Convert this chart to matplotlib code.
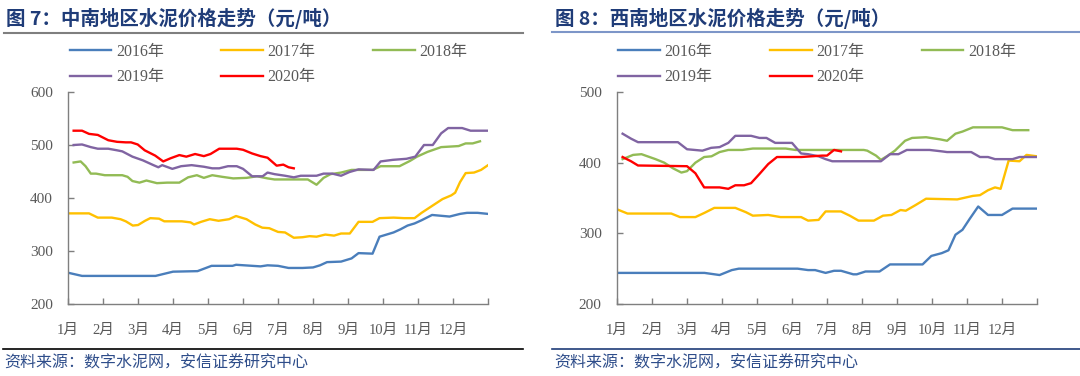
import numpy as np
import matplotlib.pyplot as plt
from matplotlib.lines import Line2D

# month position (0 = start of Jan) and price, yuan/ton
# Central-south region
cs_2016 = [(0, 259), (0.4, 253), (2.5, 253), (3.0, 261), (3.7, 262), (4.1, 272), (4.7, 272), (4.8, 274),
           (5.5, 271), (5.7, 273), (6.0, 272), (6.3, 268), (6.7, 268), (7.0, 269), (7.2, 273), (7.4, 279),
           (7.8, 280), (8.1, 286), (8.3, 296), (8.7, 295), (8.9, 327), (9.3, 335), (9.5, 341), (9.7, 348),
           (9.9, 352), (10.1, 358), (10.4, 368), (10.9, 365), (11.2, 370), (11.4, 372), (11.7, 372), (12.0, 370)]
cs_2017 = [(0, 371), (0.6, 371), (0.85, 363), (1.25, 363), (1.5, 360), (1.65, 356), (1.85, 348), (2.0, 349),
           (2.2, 357), (2.35, 362), (2.6, 361), (2.75, 356), (3.25, 356), (3.5, 354), (3.6, 350), (3.8, 355),
           (4.05, 360), (4.3, 357), (4.6, 360), (4.8, 366), (5.1, 360), (5.35, 350), (5.55, 344), (5.75, 343),
           (6.0, 336), (6.2, 335), (6.45, 325), (6.7, 326), (6.9, 328), (7.1, 327), (7.35, 331), (7.6, 329),
           (7.8, 333), (8.05, 333), (8.3, 355), (8.7, 355), (8.9, 362), (9.3, 363), (9.6, 362), (9.9, 362),
           (10.1, 372), (10.4, 385), (10.7, 398), (10.95, 405), (11.06, 410), (11.2, 430), (11.36, 447),
           (11.6, 448), (11.8, 453), (12.0, 462)]
cs_2018 = [(0.16, 467), (0.36, 469), (0.5, 460), (0.65, 446), (0.8, 446), (1.05, 443), (1.55, 443), (1.7, 440),
           (1.84, 432), (2.04, 429), (2.24, 433), (2.54, 428), (2.83, 429), (3.18, 429), (3.43, 439), (3.68, 443),
           (3.88, 438), (4.12, 443), (4.4, 440), (4.72, 437), (5.1, 438), (5.4, 441), (5.7, 437), (5.9, 435),
           (6.85, 435), (7.1, 425), (7.3, 438), (7.5, 445), (7.8, 448), (8.1, 453), (8.7, 453), (8.93, 460),
           (9.47, 460), (9.77, 470), (9.97, 478), (10.27, 487), (10.66, 496), (11.16, 498), (11.36, 503),
           (11.56, 503), (11.77, 507)]
cs_2019 = [(0.16, 500), (0.4, 501), (0.65, 496), (0.85, 493), (1.15, 493), (1.4, 490), (1.55, 488), (1.84, 478),
           (2.14, 471), (2.44, 462), (2.58, 458), (2.69, 462), (2.98, 455), (3.23, 460), (3.53, 462), (3.88, 459),
           (4.12, 456), (4.32, 456), (4.57, 460), (4.82, 460), (5.0, 455), (5.26, 441), (5.56, 441), (5.7, 448),
           (5.9, 445), (6.2, 442), (6.45, 439), (6.65, 442), (7.1, 442), (7.3, 446), (7.55, 446), (7.8, 442),
           (8.04, 449), (8.3, 454), (8.73, 453), (8.93, 469), (9.28, 472), (9.67, 474), (9.92, 478), (10.17, 500),
           (10.42, 500), (10.66, 522), (10.86, 532), (11.26, 532), (11.5, 527), (12.0, 527)]
cs_2020 = [(0.16, 527), (0.4, 527), (0.6, 521), (0.85, 519), (1.15, 509), (1.4, 506), (1.65, 505), (1.8, 505),
           (1.99, 501), (2.19, 490), (2.49, 480), (2.72, 469), (2.93, 475), (3.18, 481), (3.38, 478), (3.63, 483),
           (3.88, 479), (4.07, 483), (4.32, 493), (4.82, 493), (5.0, 491), (5.26, 484), (5.5, 479), (5.7, 476),
           (5.96, 461), (6.15, 463), (6.3, 458), (6.45, 456)]

# South-west region
sw_2016 = [(0, 244), (2.5, 244), (2.93, 241), (3.28, 248), (3.48, 250), (5.16, 250), (5.46, 248), (5.66, 248),
           (5.96, 244), (6.2, 247), (6.4, 247), (6.75, 242), (6.85, 242), (7.1, 246), (7.5, 246), (7.8, 256),
           (8.73, 256), (8.98, 268), (9.28, 272), (9.47, 276), (9.67, 298), (9.87, 305), (10.07, 320),
           (10.32, 338), (10.6, 326), (11.0, 326), (11.3, 335), (12.0, 335)]
sw_2017 = [(0, 334), (0.3, 328), (1.55, 328), (1.8, 323), (2.24, 323), (2.5, 329), (2.78, 336), (3.38, 336),
           (3.68, 330), (3.88, 325), (4.32, 326), (4.67, 323), (5.26, 323), (5.46, 318), (5.76, 319), (5.96, 331),
           (6.4, 331), (6.65, 325), (6.9, 318), (7.34, 318), (7.6, 325), (7.84, 326), (8.1, 333), (8.25, 332),
           (8.53, 340), (8.83, 349), (9.72, 348), (10.17, 353), (10.37, 354), (10.6, 361), (10.8, 365),
           (10.96, 363), (11.19, 403), (11.5, 402), (11.7, 411), (12.0, 409)]
sw_2018 = [(0.16, 405), (0.46, 411), (0.7, 412), (1.1, 405), (1.35, 400), (1.6, 392), (1.84, 386), (2.0, 388),
           (2.24, 400), (2.49, 408), (2.7, 409), (2.93, 415), (3.18, 418), (3.58, 418), (3.88, 420), (4.82, 420),
           (5.1, 418), (7.05, 418), (7.15, 417), (7.4, 410), (7.54, 404), (7.74, 410), (7.94, 417), (8.23, 431),
           (8.43, 435), (8.83, 436), (9.23, 433), (9.43, 431), (9.67, 441), (9.87, 444), (10.17, 450), (11.0, 450),
           (11.3, 446), (11.75, 446)]
sw_2019 = [(0.16, 441), (0.4, 434), (0.6, 429), (1.74, 429), (2.0, 419), (2.44, 417), (2.69, 421), (2.93, 422),
           (3.18, 428), (3.38, 438), (3.83, 438), (4.07, 435), (4.27, 435), (4.52, 428), (5.0, 428), (5.26, 413),
           (5.46, 412), (5.76, 409), (5.96, 405), (6.15, 402), (7.54, 402), (7.8, 412), (8.04, 412), (8.28, 418),
           (8.93, 418), (9.28, 416), (9.43, 415), (10.12, 415), (10.37, 408), (10.6, 408), (10.8, 405),
           (11.3, 405), (11.5, 408), (12.0, 408)]
sw_2020 = [(0.16, 408), (0.4, 402), (0.6, 396), (2.0, 395), (2.24, 385), (2.49, 365), (2.93, 365), (3.18, 363),
           (3.38, 368), (3.63, 368), (3.83, 371), (4.07, 384), (4.32, 398), (4.57, 408), (5.26, 408), (5.56, 409),
           (5.86, 410), (6.0, 410), (6.2, 418), (6.4, 416)]

years = ["2016年", "2017年", "2018年", "2019年", "2020年"]
colors = ["#4a7ebb", "#ffc000", "#92bb55", "#8064a2", "#ff0000"]
months = ["%d月" % i for i in range(1, 13)]

titles = ["图 7：中南地区水泥价格走势（元/吨）", "图 8：西南地区水泥价格走势（元/吨）"]
source = "资料来源：数字水泥网，安信证券研究中心"

SERIF = ["Liberation Serif", "Noto Sans CJK SC"]
CJK = ["Noto Sans CJK SC", "DejaVu Sans"]
grey = "#595959"
navy = "#1f3c78"

fig = plt.figure(figsize=(10.8, 3.76), dpi=100)


def panel(left, data, ylim, leg_x):
    ax = fig.add_axes([left, 0.1915, 0.3889, 0.5638])
    lines = []
    for (name, pts), c in zip(data, colors):
        pts = np.array(pts)
        ln, = ax.plot(pts[:, 0], pts[:, 1], color=c, lw=1.7, label=name, solid_joinstyle="round")
        lines.append(ln)
    ax.set_xlim(0, 12)
    ax.set_ylim(*ylim)
    ax.set_yticks(np.arange(ylim[0], ylim[1] + 1, 100))
    ax.set_xticks(range(12))
    ax.set_xticks(range(13), minor=True)
    ax.set_xticklabels(months, family=SERIF, fontsize=10.5, color=grey)
    for t in ax.get_yticklabels():
        t.set_family(SERIF)
        t.set_fontsize(11)
        t.set_color(grey)
    ax.tick_params(axis="both", which="both", direction="in", length=4, color="#7f7f7f", width=1)
    ax.tick_params(axis="y", pad=11)
    ax.tick_params(axis="x", pad=14)
    for s in ["top", "right"]:
        ax.spines[s].set_visible(False)
    for s in ["left", "bottom"]:
        ax.spines[s].set_color("#7f7f7f")
        ax.spines[s].set_linewidth(1)
    # legend fills column-wise, so reorder to read row-wise
    order = [0, 3, 1, 4, 2]
    ax.legend([lines[i] for i in order], [lines[i].get_label() for i in order],
              loc="upper left", bbox_to_anchor=(leg_x, 0.905), bbox_transform=fig.transFigure,
              ncol=3, frameon=False, borderpad=0, handlelength=2.6, handletextpad=0.3,
              columnspacing=3.6, labelspacing=0.6, labelcolor=grey,
              prop={"family": SERIF, "size": 11.5})
    return ax


panel(0.063, list(zip(years, [cs_2016, cs_2017, cs_2018, cs_2019, cs_2020])), (200, 600), 0.057)
panel(0.5713, list(zip(years, [sw_2016, sw_2017, sw_2018, sw_2019, sw_2020])), (200, 500), 0.565)

# titles, rules and source notes
fig.text(0.006, 0.952, titles[0], family=CJK, fontsize=14, fontweight="bold", color=navy, va="center")
fig.text(0.514, 0.952, titles[1], family=CJK, fontsize=14, fontweight="bold", color=navy, va="center")
fig.add_artist(Line2D([0.004, 0.484], [0.913, 0.913], transform=fig.transFigure, color="#7f7f7f", lw=1.5))
fig.add_artist(Line2D([0.511, 1.0], [0.915, 0.915], transform=fig.transFigure, color="#7d96c8", lw=1.5))
fig.add_artist(Line2D([0.003, 0.484], [0.0705, 0.0705], transform=fig.transFigure, color="#000000", lw=1.2))
fig.add_artist(Line2D([0.511, 1.0], [0.0705, 0.0705], transform=fig.transFigure, color="#1f3c78", lw=1.2))
fig.text(0.004, 0.034, source, family=CJK, fontsize=11.5, style="italic", color="#2e4d8a", va="center")
fig.text(0.513, 0.034, source, family=CJK, fontsize=11.5, style="italic", color="#2e4d8a", va="center")

fig.savefig("out.png", dpi=100)
